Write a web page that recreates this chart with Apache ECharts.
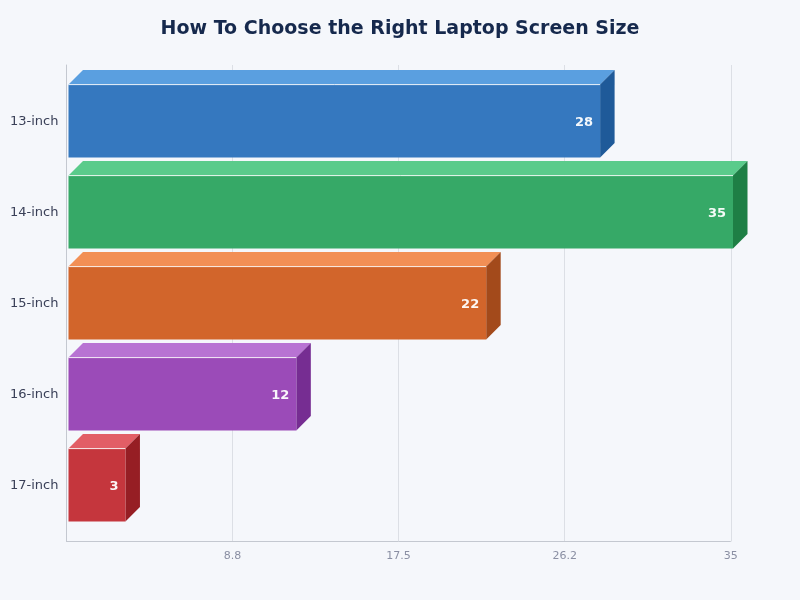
<!DOCTYPE html>
<html><head><meta charset="utf-8">
<script src="https://cdn.jsdelivr.net/npm/echarts@6/dist/echarts.min.js"></script>
<style>html,body{margin:0;padding:0;background:#f5f7fb}#c{width:800px;height:600px}</style></head>
<body><div id="c"></div>
<script>
const categories = ['13-inch','14-inch','15-inch','16-inch','17-inch'];
const values = [28,35,22,12,3];
const frontColors = ['#3578BF','#36A967','#D2652B','#9B4BB8','#C5363D'];
const topColors = ['#5A9FE0','#5ACB8B','#F28F55','#B873D3','#E25E66'];
const sideColors = ['#1F5A99','#1E7F45','#A34A1B','#762D92','#961E24'];
const tickLabels = {8.75:'8.8',17.5:'17.5',26.25:'26.2',35:'35'};
const DEPTH = 14.5, OFFSET = 2, RATIO = 0.8, LIFT = 1;

const chart = echarts.init(document.getElementById('c'), null, {renderer:'canvas'});
const fontFamily = '"DejaVu Sans", sans-serif';
chart.setOption({
  animation:false,
  backgroundColor:'#f5f7fb',
  title:{text:'How To Choose the Right Laptop Screen Size',left:'center',top:15,
    textStyle:{fontFamily,fontSize:19,fontWeight:'bold',color:'#16294d'}},
  grid:[
    {left:66.4,width:664.4,top:65,height:476.5},
    {left:66.5,width:664.5,top:76.5,height:455}
  ],
  xAxis:[
    {gridIndex:0,type:'value',min:0,max:35,interval:8.75,
      axisLine:{show:false},axisTick:{show:false},
      splitLine:{show:true,lineStyle:{color:'#dcdfe5',width:1}},
      axisLabel:{margin:9,fontFamily,fontSize:11,color:'#8a8fa3',
        formatter:v=>tickLabels[v]||''}},
    {gridIndex:1,type:'value',min:0,max:35,show:false}
  ],
  yAxis:[
    {gridIndex:0,type:'category',data:categories,inverse:true,
      axisLine:{show:true,onZero:false,lineStyle:{color:'#c4c8d0',width:1}},
      axisTick:{show:false},axisLabel:{show:false},splitLine:{show:false}},
    {gridIndex:1,type:'category',data:categories,inverse:true,
      axisLine:{show:false},axisTick:{show:false},splitLine:{show:false},
      axisLabel:{margin:8,fontFamily,fontSize:13,color:'#3a4058'}}
  ],
  series:[
    {type:'line',xAxisIndex:0,yAxisIndex:0,data:[],silent:true,
      markLine:{silent:true,symbol:'none',label:{show:false},
        lineStyle:{color:'#c4c8d0',width:1,type:'solid'},
        data:[[{xAxis:0,y:541.5},{xAxis:35,y:541.5}]]}},
    {type:'custom',xAxisIndex:1,yAxisIndex:1,
      data:values.map((v,i)=>[v,i]),
      encode:{x:0,y:1},
      renderItem(params,api){
        const i = params.dataIndex;
        const end = api.coord([api.value(0),api.value(1)]);
        const start = api.coord([0,api.value(1)]);
        const h = api.size([0,1])[1]*RATIO;
        const x0 = start[0]+OFFSET, x1 = end[0]+OFFSET;
        const cy = end[1]-LIFT;
        const y0 = cy-h/2, y1 = cy+h/2;
        return {type:'group',children:[
          {type:'polygon',shape:{points:[[x0,y0],[x0+DEPTH,y0-DEPTH],[x1+DEPTH,y0-DEPTH],[x1,y0]]},
            style:{fill:topColors[i]}},
          {type:'polygon',shape:{points:[[x1,y0],[x1+DEPTH,y0-DEPTH],[x1+DEPTH,y1-DEPTH],[x1,y1]]},
            style:{fill:sideColors[i]}},
          {type:'rect',shape:{x:x0,y:y0,width:x1-x0,height:y1-y0},
            style:{fill:frontColors[i]}},
          {type:'line',shape:{x1:x0,y1:y0,x2:x1,y2:y0},
            style:{stroke:'#ffffff',lineWidth:1,opacity:0.85}},
          {type:'text',style:{text:String(api.value(0)),x:x1-7,y:cy+2,
            align:'right',verticalAlign:'middle',
            font:'bold 13px "DejaVu Sans", sans-serif',fill:'#ffffff',opacity:0.95}}
        ]};
      }}
  ]
});
</script></body></html>
